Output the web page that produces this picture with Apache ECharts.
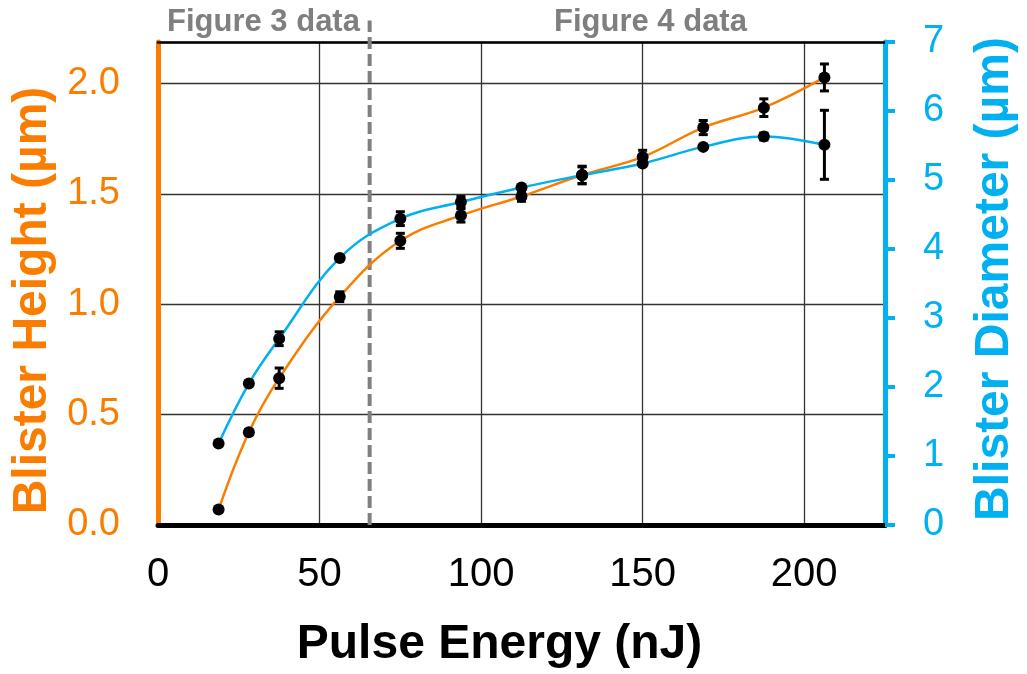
<!DOCTYPE html>
<html>
<head>
<meta charset="utf-8">
<script src="https://cdn.jsdelivr.net/npm/echarts@6/dist/echarts.min.js"></script>
<style>
  html, body { margin: 0; padding: 0; background: #fff; }
  #chart { width: 1027px; height: 674px; }
</style>
</head>
<body>
<div id="chart"></div>
<script>
// data
const energy = [18.75, 28.125, 37.5, 56.25, 75, 93.75, 112.5, 131.25, 150, 168.75, 187.5, 206.25];
const height = [0.07, 0.42, 0.665, 1.034, 1.287, 1.402, 1.488, 1.585, 1.667, 1.80, 1.89, 2.027];
const heightErr = [0, 0.012, 0.046, 0.022, 0.034, 0.03, 0.022, 0.04, 0.03, 0.032, 0.04, 0.061];
const diameter = [1.18, 2.05, 2.70, 3.87, 4.44, 4.68, 4.89, 5.07, 5.24, 5.48, 5.63, 5.51];
const diameterErr = [0, 0, 0.1, 0.03, 0.1, 0.08, 0.03, 0.12, 0.03, 0.02, 0.05, 0.5];
const xTicks = [0, 50, 100, 150, 200];
const dividerEnergy = 65.5;
const dividerTop = 2.285;

const ORANGE = '#FA7D00';
const BLUE = '#00B0F0';
const FONT = 'Liberation Sans, Arial, sans-serif';

const chart = echarts.init(document.getElementById('chart'));

function pairs(ys) {
    return energy.map((x, i) => [x, ys[i]]);
}
function errRows(ys, errs) {
    return energy.map((x, i) => [x, ys[i] - errs[i], ys[i] + errs[i]]).filter((r, i) => errs[i] > 0);
}
function renderErr(params, api) {
    const top = api.coord([api.value(0), api.value(2)]);
    const bot = api.coord([api.value(0), api.value(1)]);
    const w = 4.5;
    const style = {stroke: '#000', lineWidth: 3};
    return {
        type: 'group',
        children: [
            {type: 'line', shape: {x1: top[0], y1: top[1], x2: bot[0], y2: bot[1]}, style},
            {type: 'line', shape: {x1: top[0] - w, y1: top[1], x2: top[0] + w, y2: top[1]}, style},
            {type: 'line', shape: {x1: bot[0] - w, y1: bot[1], x2: bot[0] + w, y2: bot[1]}, style}
        ]
    };
}

chart.setOption({
    animation: false,
    textStyle: {fontFamily: FONT},
    grid: {left: 158, right: 130, top: 42, bottom: 141, containLabel: false},
    graphic: [
        {type: 'text', left: 167, top: 7, style: {text: 'Figure 3 data', fill: '#7F7F7F', font: 'bold 31px ' + FONT}},
        {type: 'text', left: 554, top: 7, style: {text: 'Figure 4 data', fill: '#7F7F7F', font: 'bold 31px ' + FONT}}
    ],
    xAxis: [{
        type: 'value', min: 0, max: 225, interval: 50, position: 'bottom',
        axisLine: {onZero: false, lineStyle: {color: '#000', width: 5}},
        axisTick: {show: false},
        axisLabel: {
            color: '#000', fontSize: 40, margin: 30, fontFamily: FONT,
            formatter: v => xTicks.includes(v) ? String(v) : ''
        },
        splitLine: {show: true, lineStyle: {color: '#333', width: 1.3}},
        name: 'Pulse Energy (nJ)', nameLocation: 'middle', nameGap: 96,
        nameTextStyle: {color: '#000', fontSize: 48, fontWeight: 'bold', fontFamily: FONT, padding: [0, 44, 0, 0]}
    }, {
        type: 'value', min: 0, max: 225, position: 'top',
        axisLine: {onZero: false, lineStyle: {color: '#000', width: 2.5}},
        axisTick: {show: false}, axisLabel: {show: false}, splitLine: {show: false}
    }],
    yAxis: [{
        type: 'value', min: 0, max: 2.1875, interval: 0.5, position: 'left',
        axisLine: {show: true, onZero: false, lineStyle: {color: ORANGE, width: 5}},
        axisTick: {show: false},
        axisLabel: {
            color: ORANGE, fontSize: 38, margin: 38, fontFamily: FONT,
            formatter: v => (Math.abs(v / 0.5 - Math.round(v / 0.5)) < 1e-6 ? v.toFixed(1) : '')
        },
        splitLine: {show: true, lineStyle: {color: '#333', width: 1.3}},
        name: 'Blister Height (µm)', nameLocation: 'middle', nameGap: 98,
        nameTextStyle: {color: ORANGE, fontSize: 48, fontWeight: 'bold', fontFamily: FONT, padding: [0, 34, 0, 0]}
    }, {
        type: 'value', min: 0, max: 7, interval: 1, position: 'right',
        axisLine: {show: true, onZero: false, lineStyle: {color: BLUE, width: 5}},
        axisTick: {show: true, length: 10, lineStyle: {color: BLUE, width: 4}},
        axisLabel: {color: BLUE, fontSize: 38, margin: 38, fontFamily: FONT},
        splitLine: {show: false},
        name: 'Blister Diameter (µm)', nameLocation: 'middle', nameGap: 86,
        nameTextStyle: {color: BLUE, fontSize: 48, fontWeight: 'bold', fontFamily: FONT, padding: [0, 0, 0, 9]}
    }],
    series: [{
        type: 'custom', name: 'divider', z: 1, silent: true,
        data: [[dividerEnergy, 0, dividerTop]],
        renderItem: (params, api) => {
            const a = api.coord([api.value(0), api.value(1)]);
            const b = api.coord([api.value(0), api.value(2)]);
            return {type: 'line', shape: {x1: a[0], y1: a[1], x2: b[0], y2: b[1]},
                style: {stroke: '#808080', lineWidth: 4, lineDash: [12, 5]}};
        }
    }, {
        type: 'line', name: 'Blister Height', yAxisIndex: 0, z: 3,
        data: pairs(height), smooth: 0.4,
        symbol: 'circle', symbolSize: 12,
        lineStyle: {color: ORANGE, width: 2.5},
        itemStyle: {color: '#000'}
    }, {
        type: 'line', name: 'Blister Diameter', yAxisIndex: 1, z: 3,
        data: pairs(diameter), smooth: 0.4,
        symbol: 'circle', symbolSize: 12,
        lineStyle: {color: BLUE, width: 2.5},
        itemStyle: {color: '#000'}
    }, {
        type: 'custom', name: 'Height error', yAxisIndex: 0, z: 4,
        data: errRows(height, heightErr), renderItem: renderErr
    }, {
        type: 'custom', name: 'Diameter error', yAxisIndex: 1, z: 4,
        data: errRows(diameter, diameterErr), renderItem: renderErr
    }]
});
</script>
</body>
</html>
